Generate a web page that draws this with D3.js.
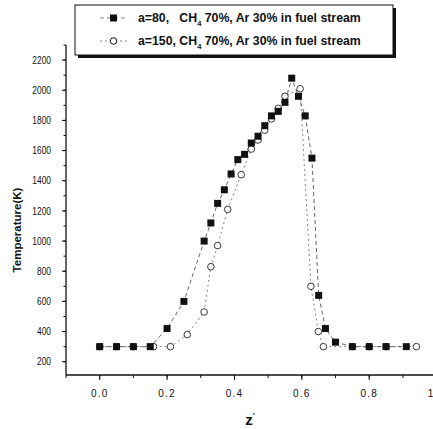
<!DOCTYPE html>
<html>
<head>
<meta charset="utf-8">
<script src="https://cdn.jsdelivr.net/npm/d3@7"></script>
<style>
  html, body { margin: 0; padding: 0; background: #fff; }
  svg { display: block; }
  text { font-family: "Liberation Sans", Arial, sans-serif; fill: #111; }
</style>
</head>
<body>
<svg id="chart" width="433" height="429"></svg>
<script>
// Mixture fraction z' and flame temperature (K) for two strain rates
const zA80 = [0, 0.05, 0.10, 0.15, 0.20, 0.25, 0.31, 0.33, 0.35, 0.37, 0.39, 0.41, 0.43, 0.45, 0.47,
              0.49, 0.51, 0.53, 0.55, 0.57, 0.59, 0.61, 0.63, 0.65, 0.67, 0.70, 0.75, 0.80, 0.85, 0.91];
const tA80 = [300, 300, 300, 300, 420, 600, 1000, 1120, 1250, 1340, 1445, 1540, 1575, 1650, 1695,
              1765, 1830, 1860, 1920, 2080, 1960, 1830, 1550, 640, 420, 330, 300, 300, 300, 300];

const zA150 = [0, 0.05, 0.10, 0.16, 0.21, 0.26, 0.31, 0.33, 0.35, 0.38, 0.42, 0.45, 0.47, 0.49, 0.51,
               0.53, 0.55, 0.595, 0.627, 0.649, 0.664, 0.75, 0.80, 0.85, 0.94];
const tA150 = [300, 300, 300, 300, 300, 380, 530, 830, 970, 1210, 1440, 1610, 1670, 1735, 1810,
               1880, 1960, 2010, 700, 400, 300, 300, 300, 300, 300];

const xTicks = [0, 0.2, 0.4, 0.6, 0.8, 1.0];
const xTickLabels = ["0.0", "0.2", "0.4", "0.6", "0.8", "1.0"];
const yTicks = [200, 400, 600, 800, 1000, 1200, 1400, 1600, 1800, 2000, 2200];

const legendRows = [
  { key: "a=80,", gap: "   " },
  { key: "a=150,", gap: " " }
];

const svg = d3.select("#chart");
const x = d3.scaleLinear().domain([-0.1, 1.0]).range([66, 436.6]);
const y = d3.scaleLinear().domain([112, 2300]).range([375, 45]);

// y axis with minor ticks every 100 K
const yMinor = d3.range(200, 2301, 100);
const gy = svg.append("g").attr("transform", "translate(66,0)");
gy.append("line").attr("x1", 0).attr("x2", 0).attr("y1", y(2300)).attr("y2", 375)
  .attr("stroke", "#111").attr("stroke-width", 1.3);
gy.selectAll(".ymin").data(yMinor).join("line")
  .attr("x1", -2.5).attr("x2", 0).attr("y1", d => y(d)).attr("y2", d => y(d))
  .attr("stroke", "#111");
gy.selectAll(".ymaj").data(yTicks).join("line")
  .attr("x1", -4).attr("x2", 0).attr("y1", d => y(d)).attr("y2", d => y(d))
  .attr("stroke", "#111");
gy.selectAll(".ylab").data(yTicks).join("text")
  .attr("x", -15).attr("y", d => y(d)).attr("dy", "0.35em")
  .attr("text-anchor", "end").attr("font-size", 10.5)
  .attr("transform", d => `translate(${-15},${y(d)}) scale(0.8,1) translate(${15},${-y(d)})`)
  .text(d => d);

// x axis with minor ticks every 0.1
const xMinor = d3.range(-0.1, 1.01, 0.1);
const gx = svg.append("g");
gx.append("line").attr("x1", 66).attr("x2", 433).attr("y1", 375).attr("y2", 375)
  .attr("stroke", "#111").attr("stroke-width", 1.3);
gx.selectAll(".xmin").data(xMinor).join("line")
  .attr("x1", d => x(d)).attr("x2", d => x(d)).attr("y1", 375).attr("y2", 378)
  .attr("stroke", "#111");
gx.selectAll(".xmaj").data(xTicks).join("line")
  .attr("x1", d => x(d)).attr("x2", d => x(d)).attr("y1", 375).attr("y2", 380)
  .attr("stroke", "#111");
gx.selectAll(".xlab").data(xTicks).join("text")
  .attr("x", d => x(d)).attr("y", 397)
  .attr("text-anchor", "middle").attr("font-size", 10).attr("letter-spacing", 1.2)
  .text((d, i) => xTickLabels[i]);

// axis titles
svg.append("text").attr("x", 250).attr("y", 425).attr("text-anchor", "middle")
  .attr("font-size", 15).attr("font-weight", "bold").text("z")
  .append("tspan").attr("dy", -7).attr("font-size", 8).text("'");
svg.append("text")
  .attr("transform", "translate(21,230) rotate(-90)")
  .attr("text-anchor", "middle").attr("font-size", 11.5).attr("font-weight", "bold")
  .text("Temperature(K)");

// series lines
const lineGen = d3.line().x(d => x(d[0])).y(d => y(d[1]));
const ptsA150 = zA150.map((z, i) => [z, tA150[i]]);
const ptsA80 = zA80.map((z, i) => [z, tA80[i]]);

svg.append("path").datum(ptsA150).attr("d", lineGen)
  .attr("fill", "none").attr("stroke", "#777").attr("stroke-width", 0.9)
  .attr("stroke-dasharray", "2,3");
svg.append("path").datum(ptsA80).attr("d", lineGen)
  .attr("fill", "none").attr("stroke", "#555").attr("stroke-width", 0.9)
  .attr("stroke-dasharray", "4,3");

// markers: open circles (a=150) under filled squares (a=80)
svg.selectAll(".c150").data(ptsA150).join("circle")
  .attr("cx", d => x(d[0])).attr("cy", d => y(d[1])).attr("r", 3.3)
  .attr("fill", "#fff").attr("stroke", "#222").attr("stroke-width", 0.9);
svg.selectAll(".s80").data(ptsA80).join("rect")
  .attr("x", d => x(d[0]) - 3.5).attr("y", d => y(d[1]) - 3.5)
  .attr("width", 7).attr("height", 7).attr("fill", "#111");

// legend box with drop shadow
const lg = svg.append("g");
lg.append("rect").attr("x", 78).attr("y", 8).attr("width", 318).attr("height", 50).attr("fill", "#111");
lg.append("rect").attr("x", 75).attr("y", 5).attr("width", 318).attr("height", 50)
  .attr("fill", "#fff").attr("stroke", "#111").attr("stroke-width", 1);

const rowY = [18, 41];
legendRows.forEach((r, i) => {
  const ry = rowY[i];
  lg.append("line").attr("x1", 100).attr("x2", 127).attr("y1", ry).attr("y2", ry)
    .attr("stroke", "#777").attr("stroke-width", 0.9)
    .attr("stroke-dasharray", i === 0 ? "4,3" : "2,3");
  if (i === 0) {
    lg.append("rect").attr("x", 110).attr("y", ry - 3.5).attr("width", 7).attr("height", 7).attr("fill", "#111");
  } else {
    lg.append("circle").attr("cx", 113.5).attr("cy", ry).attr("r", 3.3)
      .attr("fill", "#fff").attr("stroke", "#111");
  }
  const t = lg.append("text").attr("x", 138).attr("y", ry).attr("dy", "0.35em")
    .attr("font-size", 12.3).attr("font-weight", "bold").attr("xml:space", "preserve");
  t.append("tspan").text(r.key + r.gap + "CH");
  t.append("tspan").attr("dy", 4).attr("font-size", 7.5).text("4");
  t.append("tspan").attr("dy", -4).text(" 70%, Ar 30% in fuel stream");
});
</script>
</body>
</html>
